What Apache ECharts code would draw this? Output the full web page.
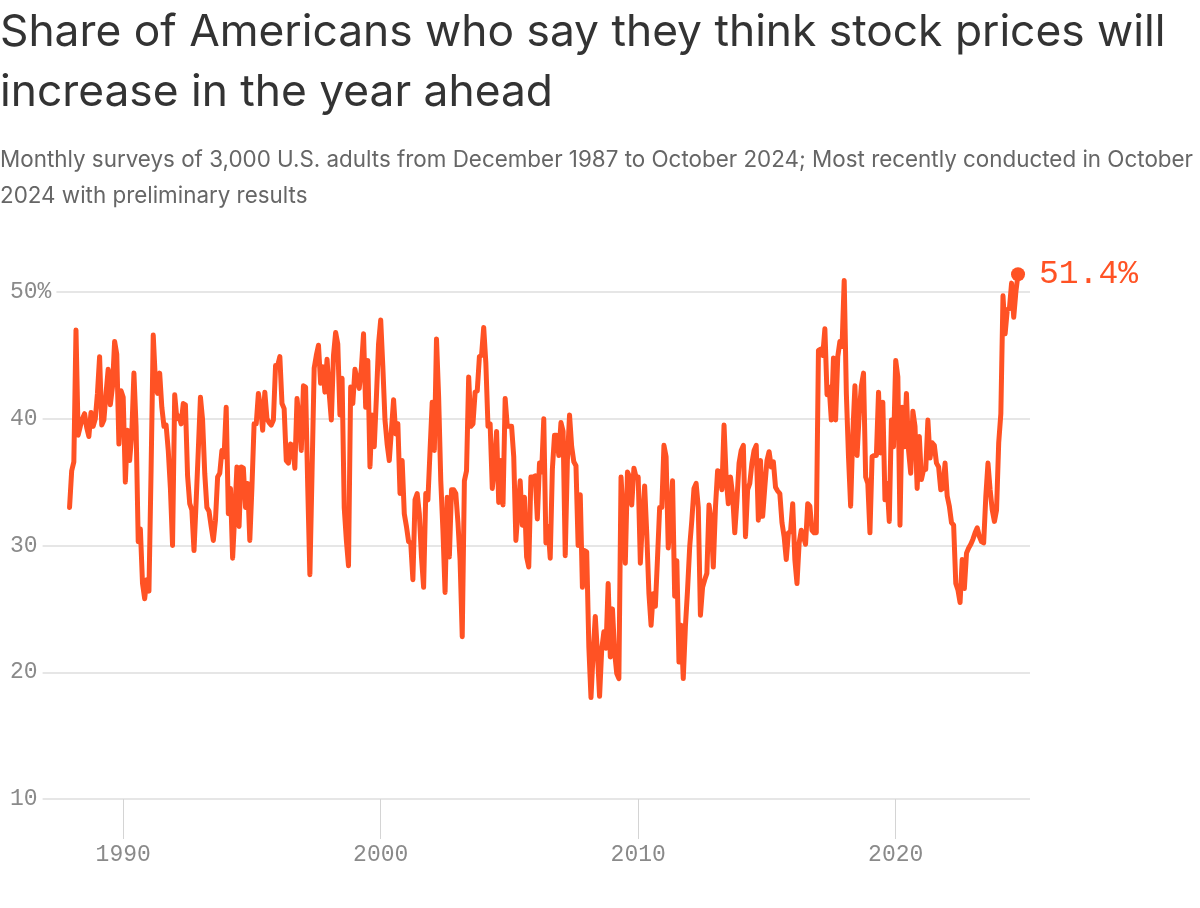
<!DOCTYPE html>
<html>
<head>
<meta charset="utf-8">
<script src="https://cdn.jsdelivr.net/npm/echarts/dist/echarts.min.js"></script>
<style>
html,body{margin:0;padding:0;background:#fff;}
#chart{width:1200px;height:908px;}
</style>
</head>
<body>
<div id="chart"></div>
<script>
const titleText = 'Share of Americans who say they think stock prices will\nincrease in the year ahead';
const subtitleText = 'Monthly surveys of 3,000 U.S. adults from December 1987 to October 2024; Most recently conducted in October\n2024 with preliminary results';

// First survey month (December 1987); one value per month through October 2024
const startYear = 1987;
const startMonth = 12;

// Share (%) who expect stock prices to increase, monthly
const shareIncrease = [
  33.0, 35.9, 36.6, 47.0, 38.7, 39.4, 40.0, 40.4, 39.3, 38.6,
  40.5, 39.4, 40.0, 42.0, 44.9, 39.5, 39.9, 42.0, 43.9, 41.1,
  42.5, 46.1, 45.1, 38.0, 42.2, 41.7, 35.0, 39.1, 36.7, 38.8,
  43.6, 39.4, 30.3, 31.3, 27.0, 25.8, 27.3, 26.4, 36.0, 46.6,
  43.0, 42.0, 43.6, 40.9,
  39.4, 39.5, 37.5, 34.5, 30.0, 41.9, 40.0, 40.2, 39.6, 41.2,
  41.1, 35.5, 33.3, 32.8, 29.6, 33.5, 37.5, 41.7, 39.9, 35.7,
  33.0, 32.7, 31.5, 30.4, 32.0, 35.4, 35.7, 37.5, 37.0, 40.9,
  32.5, 34.5, 29.0, 32.5, 36.2, 31.5, 36.2, 36.1, 33.0, 34.9,
  30.4, 34.6, 39.6, 39.6, 42.0,
  40.9, 39.1, 42.1, 40.0, 39.7, 39.5, 39.9, 44.2, 44.2, 44.9,
  41.2, 40.8, 36.7, 36.5, 38.0, 37.9, 36.1, 41.6, 39.9, 37.5,
  42.6, 42.5, 34.6, 27.7, 35.7, 44.0, 45.0, 45.8, 42.8, 44.1,
  42.1, 44.7, 42.0, 39.9, 45.0, 46.8, 45.9, 40.3, 43.2, 33.0,
  30.4, 28.4, 42.5, 41.2, 43.9, 43.0,
  42.4, 44.0, 46.7, 40.9, 44.6, 36.2, 40.3, 37.8, 41.7, 45.9,
  47.8, 44.1, 39.9, 38.0, 36.7, 39.1, 41.5, 38.8, 39.6, 34.1,
  36.7, 32.5, 31.5, 30.3, 30.2, 27.3, 33.6, 34.1, 32.5, 29.1,
  26.7, 34.1, 33.6, 37.5, 41.3, 37.5, 46.3, 41.7, 35.1, 31.2,
  26.3, 33.8, 29.1, 34.4,
  34.4, 34.1, 31.8, 28.8, 22.8, 35.1, 35.9, 43.3, 39.4, 39.6,
  42.1, 42.2, 44.9, 45.0, 47.2, 44.4, 39.4, 39.6, 34.5, 36.2,
  39.0, 33.4, 36.7, 33.2, 41.6, 39.4, 39.4, 39.4, 37.0, 30.4,
  32.8, 35.1, 31.6, 33.8, 29.1, 28.3, 35.4, 35.4, 35.5, 32.1,
  36.5, 35.8, 40.0, 30.2, 31.5, 29.0, 36.0, 38.7, 38.7, 37.1,
  39.7, 39.0, 29.2, 36.7, 40.3, 37.8, 36.6, 36.3, 30.0, 34.0,
  26.7, 29.6, 29.5, 22.0, 18.0, 21.5, 24.4, 21.5, 18.1, 21.8,
  23.2, 21.9, 27.0, 21.2, 25.0, 21.6, 19.9, 19.5, 35.4, 32.3,
  28.6, 35.8, 35.4, 33.2, 36.1, 35.4, 35.4, 28.6, 32.0,
  34.7, 30.9, 26.2, 23.7, 26.2, 25.2, 29.0, 33.0, 33.0, 37.9,
  37.0, 29.8, 32.0, 35.1, 26.0, 28.8, 20.8, 23.7, 19.5, 23.6,
  26.5, 29.9, 32.0, 34.5, 34.9, 33.0, 24.5, 26.7, 27.3, 27.8,
  33.2, 32.0, 28.3, 33.0, 35.9, 35.8, 34.4, 39.5, 35.3, 33.3,
  35.4,
  34.0, 31.0, 33.5, 36.5, 37.5, 37.9, 30.7, 34.4, 34.9, 36.5,
  37.5, 37.9, 32.0, 36.7, 32.3, 34.6, 36.7, 37.4, 36.2, 36.6,
  34.6, 34.3, 34.1, 31.8, 30.7, 28.9, 31.0, 31.1, 33.3, 28.9,
  27.0, 30.2, 31.2, 30.7, 30.1, 33.3, 33.1, 31.2, 31.0, 31.0,
  45.4, 45.5, 45.0, 47.1, 41.9, 42.5, 39.9, 44.8, 39.9, 44.9,
  46.1, 45.7, 50.9, 42.0, 37.0, 33.1, 38.8, 42.6, 37.1, 40.4,
  42.6, 43.6, 35.4, 34.9, 31.0, 37.0, 37.1, 37.1, 42.1, 37.3,
  41.3, 33.6, 34.9, 31.9, 39.9, 37.8, 44.6, 43.3, 31.6, 40.9,
  37.8, 42.0, 37.5, 35.7, 40.6, 39.4, 34.5, 38.6,
  35.2, 36.0, 36.0, 39.9, 36.9, 38.1, 37.9, 36.5, 36.2, 34.4,
  34.5, 36.5, 33.9, 33.1, 31.8, 31.6, 27.0, 26.5, 25.5, 28.9,
  26.6, 29.4, 29.8, 30.1, 30.5, 31.0, 31.4, 30.7, 30.3, 30.2,
  33.9, 36.5, 34.4, 32.8, 31.9, 32.8, 38.1, 40.4, 49.7, 46.7,
  48.6, 48.7, 50.7, 48.0, 50.0, 51.4
];

const yearTicks = [1990, 2000, 2010, 2020];
const yMin = 10, yMax = 50, yStep = 10;

const mono = '"Liberation Mono", "DejaVu Sans Mono", monospace';
const lineColor = '#ff5224';
const axisGray = '#8a8a8a';

const points = shareIncrease.map((v, i) => [startYear + (startMonth - 1) / 12 + i / 12, v]);
const lastPoint = points[points.length - 1];

// x extent so that the grid spans from the left label gutter to the right edge of the gridlines
const xMin = 1986.769;
const xMax = 2025.2155;

const chart = echarts.init(document.getElementById('chart'), null, {renderer: 'canvas'});
chart.setOption({
  animation: false,
  backgroundColor: '#ffffff',
  title: [
    {
      text: titleText, left: 0, top: 3, padding: 0,
      textStyle: {fontFamily: 'Inter', fontSize: 44.3, fontWeight: 400, color: '#333333', lineHeight: 60}
    },
    {
      text: subtitleText, left: 0, top: 142, padding: 0,
      textStyle: {fontFamily: 'Inter', fontSize: 22.4, fontWeight: 400, color: '#666666', lineHeight: 36}
    }
  ],
  grid: {left: 40, right: 170, top: 292, bottom: 109, containLabel: false},
  xAxis: {
    type: 'value', min: xMin, max: xMax,
    axisLine: {show: false},
    splitLine: {show: false},
    axisTick: {show: true, customValues: yearTicks, length: 40, lineStyle: {color: '#d4d4d4', width: 1}},
    axisLabel: {
      customValues: yearTicks, formatter: v => String(Math.round(v)), margin: 44,
      color: axisGray, fontFamily: mono, fontSize: 23
    }
  },
  yAxis: [
    {
      type: 'value', min: yMin, max: yMax, interval: yStep,
      axisLine: {show: false}, axisTick: {show: false}, axisLabel: {show: false},
      splitLine: {show: true, lineStyle: {color: '#dedede', width: 1.5}}
    },
    {
      type: 'value', min: yMin, max: yMax, interval: yStep, position: 'left', z: 5,
      axisLine: {show: false}, axisTick: {show: false}, splitLine: {show: false},
      axisLabel: {
        align: 'left', margin: 30, color: axisGray, fontFamily: mono, fontSize: 23,
        formatter: v => (v === yMax ? v + '%' : String(v)),
        backgroundColor: '#ffffff', padding: [2, 5, 2, 0]
      }
    }
  ],
  series: [
    {
      type: 'line', data: points, yAxisIndex: 0, showSymbol: false, symbol: 'none', clip: false, z: 3,
      lineStyle: {color: lineColor, width: 5, join: 'round', cap: 'round'}
    },
    {
      type: 'scatter', data: [lastPoint], yAxisIndex: 0, symbolSize: 14, clip: false, z: 4,
      itemStyle: {color: lineColor, opacity: 1},
      label: {
        show: true, position: 'right', distance: 14,
        formatter: p => p.value[1].toFixed(1) + '%',
        color: lineColor, fontFamily: mono, fontSize: 33
      }
    }
  ]
});
</script>
</body>
</html>
